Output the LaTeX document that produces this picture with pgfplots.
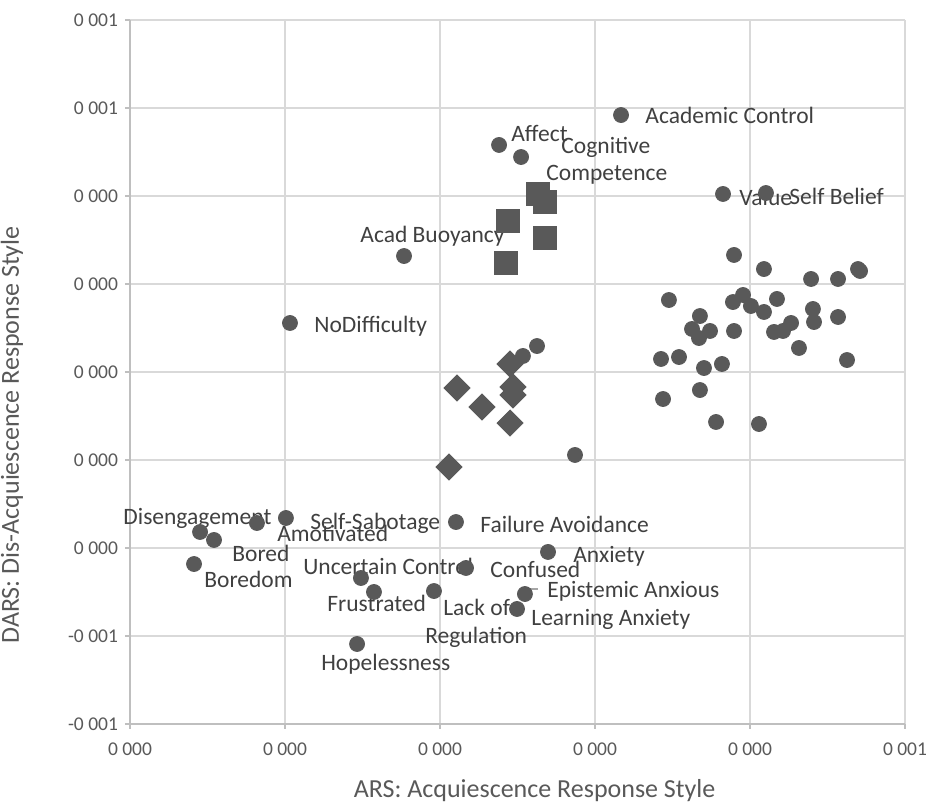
\documentclass[border=0pt]{standalone}
\usepackage{pgfplots}
\pgfplotsset{compat=1.18}
\usepackage{fontspec}
\setmainfont{Carlito}
\definecolor{mk}{HTML}{595959}
\definecolor{lbl}{HTML}{404040}
\definecolor{tk}{HTML}{595959}
\definecolor{grd}{HTML}{D9D9D9}
\definecolor{axl}{HTML}{BFBFBF}
\newcommand{\lf}{\fontsize{11.75}{13}\selectfont}
\begin{document}
\begin{tikzpicture}
\begin{axis}[
  scale only axis,
  width=387.5pt, height=352pt,
  xmin=0, xmax=5, ymin=0, ymax=8,
  clip=false,
  axis lines*=left,
  axis line style={draw=axl, line width=0.6pt, -},
  xtick={0,1,2,3,4,5},
  xticklabels={0 000,0 000,0 000,0 000,0 000,0 001},
  ytick={0,1,2,3,4,5,6,7,8},
  yticklabels={-0 001,-0 001,0 000,0 000,0 000,0 000,0 000,0 001,0 001},
  tick align=outside,
  major tick length=2.5pt,
  tick style={draw=axl, line width=0.6pt},
  grid=major,
  major grid style={draw=grd, line width=0.7pt},
  xticklabel style={font=\fontsize{9.75}{11}\selectfont, text=tk, yshift=-3.5pt},
  yticklabel style={font=\fontsize{9.75}{11}\selectfont, text=tk, xshift=0pt},
  xlabel={ARS: Acquiescence Response Style},
  ylabel={DARS: Dis-Acquiescence Response Style},
  xlabel style={font=\fontsize{13}{15}\selectfont, text=tk, at={(rel axis cs:0.522,0)}, anchor=center, yshift=-33.5pt},
  ylabel style={font=\fontsize{13}{15}\selectfont, text=tk, at={(rel axis cs:0,0.4105)}, anchor=center, yshift=59pt},
]
% leader line
\draw[color=gray!70, line width=0.6pt] (axis cs:2.548,1.489) -- (axis cs:2.548,1.534) -- (axis cs:2.632,1.534);
% circles
\addplot[only marks, mark=*, mark size=3.75pt, mark options={fill=mk, draw=mk}] coordinates {
(3.168,6.920) (2.381,6.580) (2.523,6.443) (3.826,6.023) (4.103,6.034)
(1.768,5.318) (1.032,4.557) (0.452,2.182) (0.542,2.091) (0.819,2.284)
(1.006,2.341) (0.413,1.818) (2.103,2.295) (2.697,1.955) (1.490,1.659)
(1.574,1.500) (1.961,1.511) (2.168,1.773) (2.548,1.477) (2.497,1.307)
(1.465,0.909)
(3.897,5.330) (4.090,5.170) (4.394,5.057) (4.568,5.057) (4.697,5.170)
(4.710,5.148) (3.477,4.818) (3.890,4.795) (3.955,4.875) (4.006,4.750)
(4.174,4.830) (4.090,4.682) (4.406,4.716) (4.413,4.568) (4.568,4.625)
(3.677,4.636) (3.626,4.489) (3.742,4.466) (3.671,4.386) (3.897,4.466)
(4.155,4.455) (4.213,4.466) (4.265,4.557) (4.316,4.273) (4.626,4.136)
(3.426,4.148) (3.542,4.170) (3.703,4.045) (3.819,4.091) (3.439,3.693)
(3.677,3.795) (3.781,3.432) (4.058,3.409) (2.871,3.057) (2.626,4.295)
(2.535,4.182)
};
% squares
\addplot[only marks, mark=square*, mark size=5.75pt, mark options={fill=mk, draw=mk}] coordinates {
(2.632,6.023) (2.677,5.932) (2.439,5.716) (2.677,5.523) (2.426,5.239)
};
% diamonds
\addplot[only marks, mark=square*, mark size=4.6pt, mark options={fill=mk, draw=mk, rotate=45}] coordinates {
(2.452,4.091) (2.110,3.818) (2.471,3.830) (2.471,3.739) (2.271,3.602)
(2.452,3.420) (2.058,2.920)
};
% data labels
\begin{scope}[every node/.style={anchor=west, inner sep=0pt, text=lbl, font=\lf, text height=1.6ex, text depth=0.4ex, yshift=-1.5pt}]
\node at (axis cs:3.323,6.920) {Academic Control};
\node at (axis cs:2.458,6.716) {Affect};
\node at (axis cs:2.781,6.580) {Cognitive};
\node at (axis cs:2.684,6.273) {Competence};
\node at (axis cs:3.929,5.989) {Value};
\node at (axis cs:4.252,6.000) {Self Belief};
\node at (axis cs:1.484,5.568) {Acad Buoyancy};
\node at (axis cs:1.187,4.545) {NoDifficulty};
\node at (axis cs:-0.045,2.364) {Disengagement};
\node at (axis cs:0.948,2.170) {Amotivated};
\node at (axis cs:0.658,1.943) {Bored};
\node at (axis cs:0.477,1.648) {Boredom};
\node at (axis cs:1.161,2.307) {Self-Sabotage};
\node at (axis cs:2.258,2.273) {Failure Avoidance};
\node at (axis cs:2.858,1.932) {Anxiety};
\node at (axis cs:1.116,1.795) {Uncertain Control};
\node at (axis cs:2.323,1.761) {Confused};
\node at (axis cs:2.690,1.534) {Epistemic Anxious};
\node at (axis cs:1.271,1.375) {Frustrated};
\node at (axis cs:2.019,1.330) {Lack of};
\node at (axis cs:1.903,1.011) {Regulation};
\node at (axis cs:2.587,1.216) {Learning Anxiety};
\node at (axis cs:1.232,0.705) {Hopelessness};
\end{scope}
\coordinate (ll) at (rel axis cs:0,0);
\coordinate (ur) at (rel axis cs:1,1);
\end{axis}
\pgfresetboundingbox
\path[use as bounding box] ([xshift=-65pt,yshift=-40.5pt]ll) rectangle ([xshift=13pt,yshift=10pt]ur);
\end{tikzpicture}
\end{document}
